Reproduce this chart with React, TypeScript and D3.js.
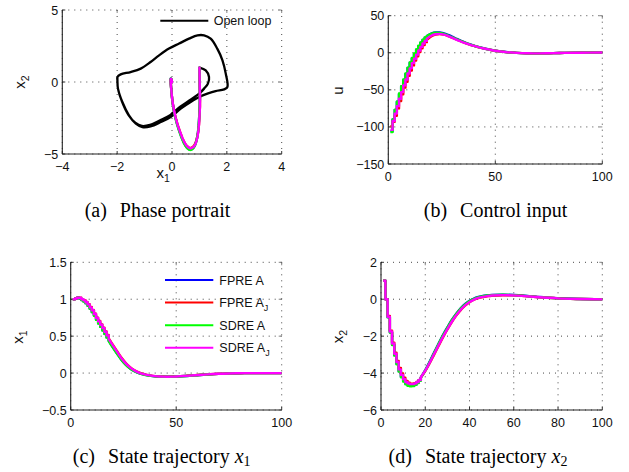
import React from "react";
import * as d3 from "d3";

// ---------- data ----------
const T = [1,2,3,4,5,6,7,8,9,10,11,12,13,14,15,16,17,18,20,22,24,26,28,30,32,34,36,38,40,42,44,46,48,50,55,60,65,70,75,80,90,100];

const uBlue = [-106,-90,-77,-66,-55.5,-45.5,-36.5,-28.5,-20.5,-13.5,-7.5,-1.5,4,9,13.5,17.2,20.3,22.6,25.8,27.4,27.5,26.2,24,21.4,18.7,16.2,13.8,11.6,9.7,7.9,6.4,5.1,3.9,2.9,1.0,-0.1,-0.6,-0.8,-0.6,-0.3,0.1,0.3];
const uRed = [-99,-93,-85,-75,-65,-56,-47,-39,-31,-24,-17,-10.5,-4.8,1,6,10.5,14.3,17.4,22,24.4,25.2,24.4,22.6,20.2,17.7,15.3,13.1,11.1,9.3,7.7,6.2,4.9,3.8,2.8,0.9,-0.2,-0.7,-0.8,-0.6,-0.3,0.1,0.3];
const uGreen = [-107,-90,-77,-66,-55,-45,-36,-28,-20,-13,-7,-1,4.5,9.5,14,17.5,20.5,22.5,25.5,27,26.8,25.5,23.3,20.8,18.2,15.8,13.5,11.4,9.5,7.8,6.3,5.0,3.8,2.8,0.9,-0.2,-0.7,-0.8,-0.6,-0.3,0.1,0.3];
const uMagenta = [-104,-92,-82,-72,-62,-53,-44,-36,-28,-21,-14,-8,-2.5,3,8,12.5,16,19,23,25,25.5,24.5,22.5,20,17.5,15.2,13,11,9.2,7.6,6.2,4.9,3.8,2.8,0.9,-0.2,-0.7,-0.8,-0.6,-0.3,0.1,0.3];

const x1Blue = [1.0,1.01,1.02,1.01,0.99,0.972,0.947,0.913,0.873,0.828,0.778,0.724,0.674,0.628,0.579,0.533,0.484,0.438,0.348,0.262,0.182,0.117,0.066,0.029,0.003,-0.015,-0.028,-0.038,-0.044,-0.048,-0.05,-0.05,-0.049,-0.047,-0.039,-0.029,-0.019,-0.011,-0.006,-0.002,0.0,0.0];
const x1Red = [1.0,1.01,1.02,1.02,1.0,0.987,0.963,0.933,0.895,0.855,0.805,0.75,0.705,0.66,0.615,0.565,0.515,0.47,0.38,0.295,0.21,0.14,0.083,0.042,0.012,-0.009,-0.024,-0.034,-0.041,-0.045,-0.047,-0.048,-0.047,-0.045,-0.037,-0.027,-0.018,-0.01,-0.005,-0.002,0.0,0.0];
const x1Green = [1.0,1.01,1.02,1.01,0.99,0.97,0.945,0.91,0.87,0.825,0.775,0.72,0.67,0.625,0.575,0.53,0.48,0.435,0.345,0.26,0.18,0.115,0.065,0.028,0.002,-0.016,-0.029,-0.038,-0.044,-0.048,-0.05,-0.05,-0.049,-0.047,-0.039,-0.029,-0.019,-0.011,-0.006,-0.002,0.0,0.0];
const x1Magenta = [1.0,1.01,1.02,1.02,1.0,0.985,0.96,0.93,0.89,0.85,0.8,0.745,0.7,0.655,0.61,0.56,0.51,0.465,0.375,0.29,0.205,0.135,0.08,0.04,0.01,-0.01,-0.025,-0.035,-0.042,-0.046,-0.048,-0.049,-0.048,-0.046,-0.038,-0.028,-0.018,-0.01,-0.005,-0.002,0.0,0.0];

const x2Blue = [1.0,0.0,-0.97,-1.79,-2.46,-3.03,-3.5,-3.9,-4.2,-4.43,-4.58,-4.66,-4.69,-4.68,-4.62,-4.52,-4.39,-4.23,-3.84,-3.38,-2.89,-2.41,-1.94,-1.52,-1.12,-0.78,-0.49,-0.26,-0.08,0.04,0.12,0.18,0.21,0.23,0.245,0.225,0.185,0.135,0.085,0.05,0.01,-0.01];
const x2Red = [1.0,0.0,-0.9,-1.7,-2.35,-2.9,-3.35,-3.72,-4.02,-4.25,-4.42,-4.52,-4.57,-4.58,-4.55,-4.48,-4.38,-4.25,-3.9,-3.47,-3.0,-2.53,-2.07,-1.64,-1.24,-0.89,-0.59,-0.35,-0.16,-0.03,0.06,0.12,0.16,0.19,0.21,0.21,0.17,0.12,0.08,0.045,0.01,-0.01];
const x2Green = [1.0,0.0,-0.98,-1.8,-2.48,-3.05,-3.52,-3.92,-4.23,-4.46,-4.61,-4.69,-4.72,-4.7,-4.64,-4.54,-4.41,-4.25,-3.86,-3.4,-2.91,-2.43,-1.96,-1.54,-1.14,-0.8,-0.51,-0.28,-0.1,0.02,0.11,0.16,0.2,0.22,0.24,0.22,0.18,0.13,0.08,0.045,0.01,-0.01];
const x2Magenta = [1.0,0.0,-0.95,-1.75,-2.4,-2.95,-3.4,-3.8,-4.1,-4.33,-4.48,-4.56,-4.6,-4.6,-4.56,-4.48,-4.37,-4.23,-3.87,-3.44,-2.97,-2.5,-2.04,-1.62,-1.22,-0.87,-0.57,-0.33,-0.15,-0.02,0.07,0.13,0.17,0.2,0.22,0.21,0.17,0.12,0.08,0.045,0.01,-0.01];

const olX1 = [1.0,1.23,1.35,1.31,1.17,0.99,0.66,0.30,-0.07,-0.43,-0.80,-1.10,-1.34,-1.59,-1.82,-1.97,-1.99,-1.99,-1.87,-1.51,-1.14,-0.78,-0.47,-0.11,0.26,0.62,0.93,1.17,1.41,1.65,1.84,1.96,2.02,1.90,1.59,1.29,1.05,0.68,0.32,-0.05,-0.41,-0.78,-1.08,-1.32,-1.57,-1.81,-1.97,-1.99,-1.99];
const olX2 = [1.0,0.81,0.35,-0.11,-0.46,-0.81,-1.25,-1.72,-2.30,-2.66,-2.98,-3.05,-2.83,-2.28,-1.38,-0.46,0.12,0.35,0.53,0.69,0.93,1.39,1.85,2.32,2.67,3.01,3.24,3.24,3.01,2.32,1.51,0.58,-0.35,-0.51,-0.63,-0.81,-0.99,-1.39,-1.85,-2.43,-2.78,-3.08,-3.13,-2.89,-2.31,-1.39,-0.46,0.12,0.35];

const seriesNames = ["FPRE A", "FPRE A", "SDRE A", "SDRE A"];
const seriesSubs = ["", "J", "", "J"];
const seriesColors = ["#0000ff", "#ff0000", "#00ff00", "#ff00ff"];

const uSeries = [uBlue, uRed, uGreen, uMagenta];
const x1Series = [x1Blue, x1Red, x1Green, x1Magenta];
const x2Series = [x2Blue, x2Red, x2Green, x2Magenta];

const ticksA_x = [-4, -2, 0, 2, 4];
const ticksA_y = [-5, 0, 5];
const ticksB_x = [0, 50, 100];
const ticksB_y = [-150, -100, -50, 0, 50];
const ticksC_x = [0, 50, 100];
const ticksC_y = [-0.5, 0, 0.5, 1, 1.5];
const ticksD_x = [0, 20, 40, 60, 80, 100];
const ticksD_y = [-6, -4, -2, 0, 2];

// ---------- helpers ----------
const SANS = "'Liberation Sans', Arial, Helvetica, sans-serif";
const SERIF = "'Liberation Serif', 'Times New Roman', serif";
const fmt = (v: number) => (v < 0 ? "\u2212" + String(Math.abs(v)) : String(v));

type Box = { l: number; r: number; t: number; b: number };

function Frame({ box, xs, ys, xt, yt }: { box: Box; xs: any; ys: any; xt: number[]; yt: number[] }) {
  const tl = 3;
  return (
    <g>
      {xt.map((v, i) => (
        <line key={"gx" + i} x1={xs(v)} x2={xs(v)} y1={box.t} y2={box.b} stroke="#333" strokeWidth={0.9} strokeDasharray="1,5" />
      ))}
      {yt.map((v, i) => (
        <line key={"gy" + i} x1={box.l} x2={box.r} y1={ys(v)} y2={ys(v)} stroke="#333" strokeWidth={0.9} strokeDasharray="1,5" />
      ))}
      {xt.map((v, i) => (
        <g key={"tx" + i}>
          <line x1={xs(v)} x2={xs(v)} y1={box.b} y2={box.b - tl} stroke="#000" strokeWidth={0.8} />
          <line x1={xs(v)} x2={xs(v)} y1={box.t} y2={box.t + tl} stroke="#666" strokeWidth={0.8} />
        </g>
      ))}
      {yt.map((v, i) => (
        <g key={"ty" + i}>
          <line x1={box.l} x2={box.l + tl} y1={ys(v)} y2={ys(v)} stroke="#000" strokeWidth={0.8} />
          <line x1={box.r} x2={box.r - tl} y1={ys(v)} y2={ys(v)} stroke="#666" strokeWidth={0.8} />
        </g>
      ))}
      <line x1={box.l} x2={box.l} y1={box.t} y2={box.b} stroke="#222" strokeWidth={1.1} />
      <line x1={box.l} x2={box.r} y1={box.b} y2={box.b} stroke="#222" strokeWidth={1.1} />
      {xt.map((v, i) => (
        <text key={"lx" + i} x={xs(v)} y={box.b + 16.5} textAnchor="middle" fontFamily={SANS} fontSize={12.5} fill="#111">
          {fmt(v)}
        </text>
      ))}
      {yt.map((v, i) => (
        <text key={"ly" + i} x={box.l - 4} y={ys(v) + 4.5} textAnchor="end" fontFamily={SANS} fontSize={12.5} fill="#111">
          {fmt(v)}
        </text>
      ))}
    </g>
  );
}

function YLabel({ x, y, main, sub }: { x: number; y: number; main: string; sub?: string }) {
  return (
    <text transform={`translate(${x},${y}) rotate(-90)`} textAnchor="middle" fontFamily={SANS} fontSize={15} fill="#111">
      {main}
      {sub ? (
        <tspan fontSize={10.5} dy={4}>
          {sub}
        </tspan>
      ) : null}
    </text>
  );
}

function Caption({ x, y, label, text, mathSub }: { x: number; y: number; label: string; text: string; mathSub?: string }) {
  return (
    <text x={x} y={y} textAnchor="middle" fontFamily={SERIF} fontSize={20} fill="#000">
      <tspan>{label}</tspan>
      <tspan dx={13}>{text}</tspan>
      {mathSub ? (
        <>
          <tspan dx={5} fontStyle="italic">x</tspan>
          <tspan fontSize={14} dy={3}>{mathSub}</tspan>
        </>
      ) : null}
    </text>
  );
}

function timeLine(xs: any, ys: any, vals: number[]) {
  const pts: [number, number][] = T.map((t, i) => [xs(t), ys(vals[i])]);
  const k = T.indexOf(18);
  const step = d3.line().curve(d3.curveStepAfter)(pts.slice(0, k + 1)) || "";
  const smooth = d3.line().curve(d3.curveMonotoneX)(pts.slice(k)) || "";
  return step + smooth.replace(/^M/, "L");
}

export default function App() {
  const A: Box = { l: 62.3, r: 281.7, t: 10, b: 154 };
  const B: Box = { l: 388.3, r: 602.3, t: 15.7, b: 164 };
  const C: Box = { l: 70.7, r: 281.7, t: 262.3, b: 410 };
  const D: Box = { l: 381, r: 602.3, t: 262.3, b: 410 };

  const xA = d3.scaleLinear().domain([-4, 4]).range([A.l, A.r]);
  const yA = d3.scaleLinear().domain([-5, 5]).range([A.b, A.t]);
  const xB = d3.scaleLinear().domain([0, 100]).range([B.l, B.r]);
  const yB = d3.scaleLinear().domain([-150, 50]).range([B.b, B.t]);
  const xC = d3.scaleLinear().domain([0, 100]).range([C.l, C.r]);
  const yC = d3.scaleLinear().domain([-0.5, 1.5]).range([C.b, C.t]);
  const xD = d3.scaleLinear().domain([0, 100]).range([D.l, D.r]);
  const yD = d3.scaleLinear().domain([-6, 2]).range([D.b, D.t]);

  const olPath =
    d3
      .line<number>()
      .x((_, i) => xA(olX1[i]))
      .y((_, i) => yA(olX2[i]))
      .curve(d3.curveCatmullRom.alpha(0.5))(olX1) || "";

  const phasePath = (k: number) =>
    d3
      .line<number>()
      .x((_, i) => xA(x1Series[k][i]))
      .y((_, i) => yA(x2Series[k][i]))
      .curve(d3.curveLinear)(T) || "";

  const lw = 2.4;

  return (
    <svg width={629} height={472} style={{ position: "absolute", left: 0, top: 0, background: "#fff" }}>
      <rect x={0} y={0} width={629} height={472} fill="#fff" />
      {/* (a) */}
      <Frame box={A} xs={xA} ys={yA} xt={ticksA_x} yt={ticksA_y} />
      <path d={olPath} fill="none" stroke="#000" strokeWidth={2.3} strokeLinejoin="round" />
      {seriesColors.map((c, k) => (
        <path key={"ph" + k} d={phasePath(k)} fill="none" stroke={c} strokeWidth={lw} strokeLinejoin="round" strokeLinecap="round" />
      ))}
      <line x1={160.3} x2={208.3} y1={20.7} y2={20.7} stroke="#000" strokeWidth={2} />
      <text x={213.7} y={25} fontFamily={SANS} fontSize={12.5} fill="#111">
        Open loop
      </text>
      <text x={156.5} y={177.5} fontFamily={SANS} fontSize={15} fill="#111">
        x<tspan fontSize={10.5} dy={4}>1</tspan>
      </text>
      <YLabel x={25} y={82} main="x" sub="2" />
      <Caption x={157.5} y={217} label="(a)" text="Phase portrait" />

      {/* (b) */}
      <Frame box={B} xs={xB} ys={yB} xt={ticksB_x} yt={ticksB_y} />
      {seriesColors.map((c, k) => (
        <path key={"u" + k} d={timeLine(xB, yB, uSeries[k])} fill="none" stroke={c} strokeWidth={lw} strokeLinejoin="round" />
      ))}
      <YLabel x={343} y={90.7} main="u" />
      <Caption x={495.5} y={217} label="(b)" text="Control input" />

      {/* (c) */}
      <Frame box={C} xs={xC} ys={yC} xt={ticksC_x} yt={ticksC_y} />
      {seriesColors.map((c, k) => (
        <path key={"x1" + k} d={timeLine(xC, yC, x1Series[k])} fill="none" stroke={c} strokeWidth={lw} strokeLinejoin="round" />
      ))}
      {seriesColors.map((c, k) => {
        const y = 280 + k * 22.6;
        return (
          <g key={"lg" + k}>
            <line x1={165} x2={213.3} y1={y} y2={y} stroke={c} strokeWidth={2} />
            <text x={219.3} y={y + 4.5} fontFamily={SANS} fontSize={12.5} fill="#111">
              {seriesNames[k]}
              {seriesSubs[k] ? (
                <tspan fontSize={9} dy={4}>
                  {seriesSubs[k]}
                </tspan>
              ) : null}
            </text>
          </g>
        );
      })}
      <YLabel x={23} y={337} main="x" sub="1" />
      <Caption x={161.7} y={462.7} label="(c)" text="State trajectory" mathSub="1" />

      {/* (d) */}
      <Frame box={D} xs={xD} ys={yD} xt={ticksD_x} yt={ticksD_y} />
      {seriesColors.map((c, k) => (
        <path key={"x2" + k} d={timeLine(xD, yD, x2Series[k])} fill="none" stroke={c} strokeWidth={lw} strokeLinejoin="round" />
      ))}
      <YLabel x={343} y={336.7} main="x" sub="2" />
      <Caption x={478} y={462.7} label="(d)" text="State trajectory" mathSub="2" />
    </svg>
  );
}
